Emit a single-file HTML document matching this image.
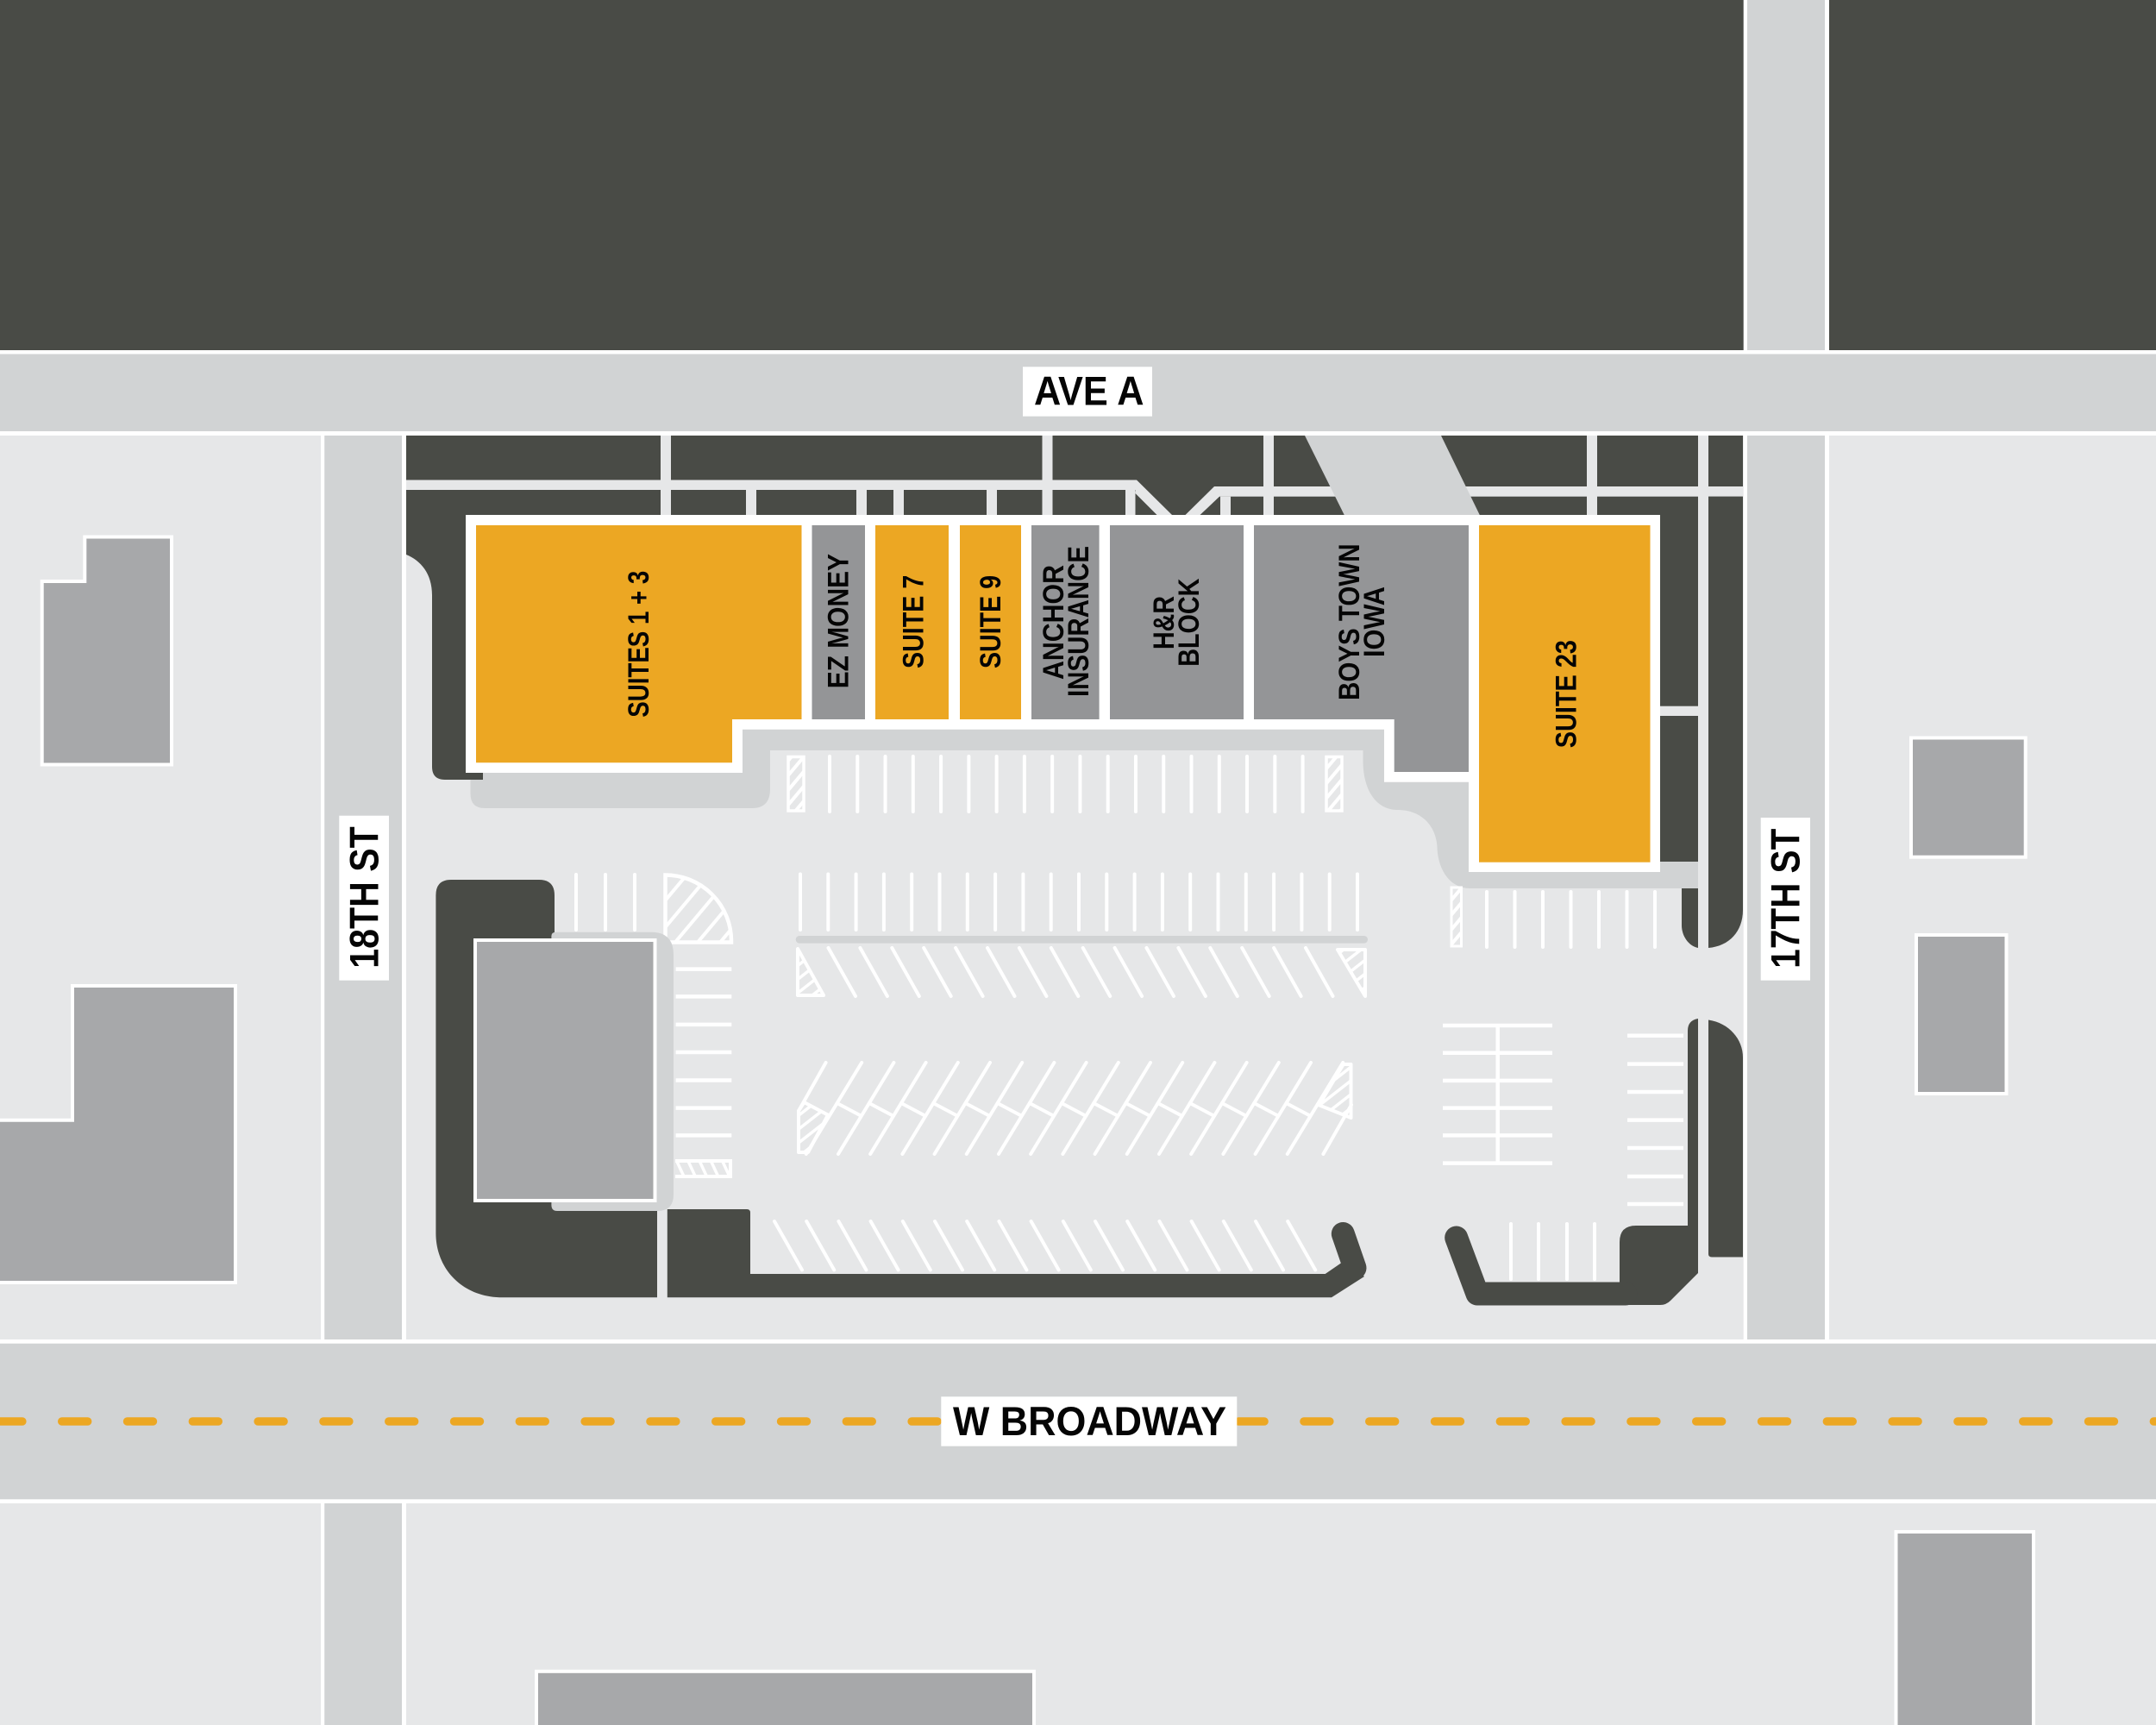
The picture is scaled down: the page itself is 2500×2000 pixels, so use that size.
<!DOCTYPE html>
<html lang="en">
<head>
<meta charset="utf-8">
<title>Site plan</title>
<style>
html,body{margin:0;padding:0;background:#e6e7e8}
svg{display:block}
text{font-family:"Liberation Sans",sans-serif;font-weight:700;fill:#050505}
.t{font-size:34px}
.r{font-size:47px}
.p{fill:none;stroke:#fff;stroke-width:4;stroke-linecap:round}
.q{fill:none;stroke:#fff;stroke-width:4.5}
</style>
</head>
<body>
<svg xmlns="http://www.w3.org/2000/svg" width="2500" height="2000" viewBox="0 0 2500 2000">
<defs>
<pattern id="h1" width="11" height="11" patternUnits="userSpaceOnUse" patternTransform="rotate(-50)"><rect width="11" height="4" fill="#fff"/></pattern>
<pattern id="h2" width="20" height="20" patternUnits="userSpaceOnUse" patternTransform="rotate(-50)"><rect width="20" height="4" fill="#fff"/></pattern>
<pattern id="h3" width="12.5" height="12.5" patternUnits="userSpaceOnUse" patternTransform="rotate(-38)"><rect width="12.5" height="3.5" fill="#fff"/></pattern>
<pattern id="h4" width="12" height="12" patternUnits="userSpaceOnUse" patternTransform="rotate(65)"><rect width="12" height="3.5" fill="#fff"/></pattern>
</defs>

<!-- ground -->
<rect width="2500" height="2000" fill="#e6e7e8"/>
<rect width="2500" height="406" fill="#494b46"/>

<!-- vertical roads -->
<rect x="2021.7" y="0" width="99.3" height="500" fill="#fff"/>
<rect x="2026" y="0" width="90" height="1553" fill="#d1d3d4"/>
<rect x="2021.7" y="505" width="4.3" height="1048" fill="#fff"/>
<rect x="2116" y="505" width="5" height="1048" fill="#fff"/>
<rect x="372" y="505" width="4.3" height="1048" fill="#fff"/>
<rect x="376.3" y="505" width="89.7" height="1048" fill="#d1d3d4"/>
<rect x="466" y="505" width="5" height="1048" fill="#fff"/>
<rect x="372" y="1743" width="4.3" height="257" fill="#fff"/>
<rect x="376.3" y="1743" width="89.7" height="257" fill="#d1d3d4"/>
<rect x="466" y="1743" width="5" height="257" fill="#fff"/>

<!-- horizontal roads -->
<rect x="0" y="406" width="2500" height="99" fill="#fff"/>
<rect x="0" y="410.5" width="2500" height="89.5" fill="#d1d3d4"/>
<rect x="0" y="1553" width="2500" height="190" fill="#fff"/>
<rect x="0" y="1557.7" width="2500" height="180.6" fill="#d1d3d4"/>

<!-- yellow centre line -->
<path fill="none" stroke="#eca723" stroke-width="9.4" stroke-linecap="round" stroke-dasharray="30 45.8" stroke-dashoffset="-0.1" d="M-4.2,1648H2500"/>

<!-- landscaping strip at the north edge -->
<rect x="471" y="505" width="1550" height="92.5" fill="#494b46"/>
<g fill="#e6e7e8">
<rect x="471" y="556.5" width="847" height="11.5"/>
<rect x="1408" y="564" width="613" height="11.7"/>
<rect x="766" y="505" width="12" height="92.5"/>
<rect x="1208.5" y="505" width="12" height="92.5"/>
<rect x="1465" y="505" width="12" height="92.5"/>
<rect x="1840" y="505" width="12" height="92.5"/>
<rect x="1969" y="505" width="12" height="92.5"/>
<rect x="865" y="568" width="12" height="29.5"/>
<rect x="993" y="568" width="12" height="29.5"/>
<rect x="1036" y="568" width="12" height="29.5"/>
<rect x="1144" y="568" width="12" height="29.5"/>
<rect x="1305" y="568" width="11.5" height="29.5"/>
<rect x="1415" y="575.7" width="12" height="21.8"/>
<polygon points="1318,556.5 1359.5,597.5 1342,597.5 1316.5,572"/>
<polygon points="1408,564 1414,575.7 1391,597.5 1374,597.5"/>
</g>
<polygon points="1513,505 1671,505 1716,597.5 1559,597.5" fill="#d1d3d4"/>

<!-- west planter by the main building -->
<path fill="#494b46" d="M471,597H545V896H560V904H516Q501,904 501,889V690C501,665 488,650 471,643Z"/>

<!-- walkway around the main building -->
<path fill="#d1d3d4" d="M545.5,880V920Q545.5,937 562,937H872Q893,937 893,915V870H1580.5V882C1580.5,915 1595,939 1620.7,939C1650,939 1666.6,960 1666.6,985C1668,1007 1680,1030 1705,1030H1969V999H1900V845H861V880Z"/>
<path fill="#494b46" d="M540,890H560V904H540Z"/>

<!-- east planters -->
<rect x="1925" y="597" width="44" height="402" fill="#494b46"/>
<rect x="1925" y="818.7" width="44" height="11.3" fill="#e6e7e8"/>
<path fill="#494b46" d="M1981,575.7H2021V1055C2021,1080 2005,1097 1981,1099Z"/>
<path fill="#494b46" d="M1950,1030H1969V1099C1958,1097 1950,1085 1950,1073Z"/>
<path fill="#494b46" d="M1981,1182.5C2005,1186 2021,1205 2021,1226V1457.5H1985Q1981,1457.5 1981,1454Z"/>
<path fill="#494b46" d="M1878,1440Q1878,1421 1897,1421H1957V1195Q1957,1183 1969,1181V1476L1937,1508Q1932,1513 1925,1513H1878Z"/>
<path fill="none" stroke="#494b46" stroke-width="27" stroke-linecap="round" stroke-linejoin="round" d="M1688.7,1435L1713,1500H1885"/>

<!-- main building -->
<polygon fill="#fff" points="540,597 1925,597 1925,1011 1703,1011 1703,906.7 1605,906.7 1605,845.7 861,845.7 861,896 540,896"/>
<polygon fill="#eca723" points="552,609 929.5,609 929.5,834 849,834 849,884.3 552,884.3"/>
<rect x="941.5" y="609" width="61.5" height="225" fill="#949597"/>
<rect x="1015" y="609" width="85" height="225" fill="#eca723"/>
<rect x="1113" y="609" width="71" height="225" fill="#eca723"/>
<rect x="1196" y="609" width="78.6" height="225" fill="#949597"/>
<rect x="1287" y="609" width="155" height="225" fill="#949597"/>
<polygon fill="#949597" points="1454,609 1703,609 1703,895 1616.7,895 1616.7,834 1454,834"/>
<rect x="1715" y="609" width="198.5" height="390.7" fill="#eca723"/>

<!-- tenant labels -->
<text class="t" transform="translate(752.2,831.7) rotate(-90)" textLength="170" lengthAdjust="spacingAndGlyphs">SUITES 1 + 3</text>
<text class="t" transform="translate(983.5,798.3) rotate(-90)" textLength="156.3" lengthAdjust="spacingAndGlyphs">EZ MONEY</text>
<text class="t" transform="translate(1070.5,775) rotate(-90)" textLength="108.3" lengthAdjust="spacingAndGlyphs">SUITE 7</text>
<text class="t" transform="translate(1160,775) rotate(-90)" textLength="108" lengthAdjust="spacingAndGlyphs">SUITE 9</text>
<text class="t" transform="translate(1233,788) rotate(-90)" textLength="133" lengthAdjust="spacingAndGlyphs">ANCHOR</text>
<text class="t" transform="translate(1262,808) rotate(-90)" textLength="175" lengthAdjust="spacingAndGlyphs">INSURANCE</text>
<text class="t" transform="translate(1361,753) rotate(-90)" textLength="62" lengthAdjust="spacingAndGlyphs">H&amp;R</text>
<text class="t" transform="translate(1390,772.8) rotate(-90)" textLength="102.2" lengthAdjust="spacingAndGlyphs">BLOCK</text>
<text class="t" transform="translate(1576,812) rotate(-90)" textLength="181.6" lengthAdjust="spacingAndGlyphs">BOYS TOWN</text>
<text class="t" transform="translate(1605,762) rotate(-90)" textLength="82" lengthAdjust="spacingAndGlyphs">IOWA</text>
<text class="t" transform="translate(1827.4,867.3) rotate(-90)" textLength="125.3" lengthAdjust="spacingAndGlyphs">SUITE 23</text>

<!-- parking row under building -->
<path class="p" d="M962,877v64m32.27,-64v64m32.27,-64v64m32.27,-64v64m32.27,-64v64m32.27,-64v64m32.27,-64v64m32.27,-64v64m32.27,-64v64m32.27,-64v64m32.27,-64v64m32.27,-64v64m32.27,-64v64m32.27,-64v64m32.27,-64v64m32.27,-64v64m32.27,-64v64m32.27,-64v64"/>
<rect x="914" y="877.5" width="18" height="62.5" fill="url(#h1)" stroke="#fff" stroke-width="3.5"/>
<rect x="1538" y="877.5" width="18" height="62.5" fill="url(#h1)" stroke="#fff" stroke-width="3.5"/>

<!-- second parking row and divider -->
<path class="p" d="M928,1013.5v64.5m32.3,-64.5v64.5m32.3,-64.5v64.5m32.3,-64.5v64.5m32.3,-64.5v64.5m32.3,-64.5v64.5m32.3,-64.5v64.5m32.3,-64.5v64.5m32.3,-64.5v64.5m32.3,-64.5v64.5m32.3,-64.5v64.5m32.3,-64.5v64.5m32.3,-64.5v64.5m32.3,-64.5v64.5m32.3,-64.5v64.5m32.3,-64.5v64.5m32.3,-64.5v64.5m32.3,-64.5v64.5m32.3,-64.5v64.5m32.3,-64.5v64.5m32.3,-64.5v64.5"/>
<rect x="922.7" y="1085" width="663.3" height="8.6" rx="4.3" fill="#d1d3d4"/>

<!-- third row -->
<path class="p" d="M960.5,1099l31.5,56m5.4,-56l31.5,56m5.4,-56l31.5,56m5.4,-56l31.5,56m5.4,-56l31.5,56m5.4,-56l31.5,56m5.4,-56l31.5,56m5.4,-56l31.5,56m5.4,-56l31.5,56m5.4,-56l31.5,56m5.4,-56l31.5,56m5.4,-56l31.5,56m5.4,-56l31.5,56m5.4,-56l31.5,56m5.4,-56l31.5,56m5.4,-56l31.5,56"/>
<polygon points="925,1100 925,1154 955,1154" fill="url(#h3)" stroke="#fff" stroke-width="4" stroke-linejoin="round"/>
<polygon points="1551,1101 1583,1101 1583,1155" fill="url(#h3)" stroke="#fff" stroke-width="4" stroke-linejoin="round"/>

<!-- chevron row -->
<path class="p" d="M999.2,1232l-64.4,106m101.6,-106l-64.4,106m101.6,-106l-64.4,106m101.6,-106l-64.4,106m101.6,-106l-64.4,106m101.6,-106l-64.4,106m101.6,-106l-64.4,106m101.6,-106l-64.4,106m101.6,-106l-64.4,106m101.6,-106l-64.4,106m101.6,-106l-64.4,106m101.6,-106l-64.4,106m101.6,-106l-64.4,106m101.6,-106l-64.4,106m101.6,-106l-64.4,106m101.6,-106l-64.4,106"/>
<path class="p" d="M970.6,1279l27.2,14.4m10,-14.4l27.2,14.4m10,-14.4l27.2,14.4m10,-14.4l27.2,14.4m10,-14.4l27.2,14.4m10,-14.4l27.2,14.4m10,-14.4l27.2,14.4m10,-14.4l27.2,14.4m10,-14.4l27.2,14.4m10,-14.4l27.2,14.4m10,-14.4l27.2,14.4m10,-14.4l27.2,14.4m10,-14.4l27.2,14.4m10,-14.4l27.2,14.4m10,-14.4l27.2,14.4"/>
<path class="p" d="M957.6,1232L926,1288"/>
<polygon points="926,1288 932.4,1278 960,1292.7 937,1336 926,1336" fill="url(#h3)" stroke="#fff" stroke-width="4" stroke-linejoin="round"/>
<polygon points="1557.7,1234 1566.5,1234 1566.5,1296 1529.5,1281.3" fill="url(#h3)" stroke="#fff" stroke-width="4" stroke-linejoin="round"/>
<path class="p" d="M1567,1281L1534.4,1338"/>

<!-- bottom row: 17 stripes -->
<path class="p" d="M898,1416l32,56.4M935.2,1416l32,56.4M972.4,1416l32,56.4M1009.6,1416l32,56.4M1046.8,1416l32,56.4M1084,1416l32,56.4M1121.2,1416l32,56.4M1158.4,1416l32,56.4M1195.6,1416l32,56.4M1232.8,1416l32,56.4M1270,1416l32,56.4M1307.2,1416l32,56.4M1344.4,1416l32,56.4M1381.6,1416l32,56.4M1418.8,1416l32,56.4M1456,1416l32,56.4M1493.2,1416l32,56.4"/>

<!-- bottom curb -->
<path fill="#494b46" d="M773.8,1402H866Q870,1402 870,1406V1477H1536.7L1560,1461L1582,1480L1544,1504.3H773.8Z"/>
<path fill="none" stroke="#494b46" stroke-width="27" stroke-linecap="round" stroke-linejoin="round" d="M1557.3,1430.5L1571,1470"/>

<!-- west pad parking -->
<path class="p" d="M668,1014v64m34,-64v64m34,-64v64"/>
<path d="M771.5,1078V1014.5A76.5,76.5 0 0 1 848,1091V1092.5H771.5Z" fill="url(#h2)" stroke="#fff" stroke-width="4.5"/>
<path class="q" d="M783.6,1123.6H848.3M783.6,1155.4H848.3M783.6,1187.9H848.3M783.6,1220H848.3M783.6,1252.5H848.3M783.6,1284.6H848.3M783.6,1316.4H848.3"/>
<path d="M783,1346H847V1364H783Z" fill="url(#h4)"/>
<path d="M783,1346H847V1364H783" fill="none" stroke="#fff" stroke-width="4"/>

<!-- west pad planter, walkway, building -->
<path fill="#494b46" d="M505.4,1038Q505.4,1020 523,1020H625Q643,1020 643,1038V1400H762V1504.3H583C535,1504.3 505.4,1470 505.4,1430Z"/>
<path fill="#d1d3d4" d="M639.4,1087V1085Q639.4,1080.7 645,1080.7H755Q781,1080.7 781,1107V1385Q781,1404 762,1404H646Q639.4,1404 639.4,1397Z"/>
<rect x="551" y="1090" width="208.5" height="302" fill="#a7a8aa" stroke="#fff" stroke-width="4"/>

<!-- east parking -->
<rect x="1683" y="1029" width="11.5" height="68" fill="url(#h1)" stroke="#fff" stroke-width="3"/>
<path class="p" d="M1724,1034v64m32.5,-64v64m32.5,-64v64m32.5,-64v64m32.5,-64v64m32.5,-64v64m32.5,-64v64"/>
<path class="q" d="M1673,1189H1800M1673,1220.7H1800M1673,1252.9H1800M1673,1284.6H1800M1673,1316.4H1800M1673,1348.6H1800M1736.7,1189V1348.6"/>
<path class="q" d="M1887,1200.7H1952M1887,1233.6H1952M1887,1266H1952M1887,1298.6H1952M1887,1331H1952M1887,1364H1952M1887,1396H1952"/>
<path class="p" d="M1752,1419v64m32,-64v64m33,-64v64m32,-64v64"/>

<!-- neighbouring buildings -->
<g fill="#a7a8aa" stroke="#fff" stroke-width="4">
<polygon points="98.3,622.5 199,622.5 199,886.5 48.7,886.5 48.7,674 98.3,674"/>
<polygon points="84,1143 273,1143 273,1487 -5,1487 -5,1298.7 84,1298.7"/>
<rect x="2216" y="855.5" width="132.7" height="138.2"/>
<rect x="2222" y="1084" width="104.5" height="184"/>
<rect x="2198.5" y="1776" width="159.5" height="240"/>
<rect x="622" y="1937.8" width="577" height="80"/>
</g>

<!-- street labels -->
<rect x="1186" y="425.3" width="150" height="57.4" fill="#fff"/>
<text class="r" x="1199" y="469.5" textLength="127.5" lengthAdjust="spacingAndGlyphs">AVE A</text>
<rect x="1091.3" y="1619.3" width="343" height="57.4" fill="#fff"/>
<text class="r" x="1105" y="1664" textLength="317" lengthAdjust="spacingAndGlyphs">W BROADWAY</text>
<rect x="393.3" y="945.7" width="57.7" height="191" fill="#fff"/>
<text class="r" transform="translate(438.3,1122.7) rotate(-90)" textLength="164.4" lengthAdjust="spacingAndGlyphs">18TH ST</text>
<rect x="2041.7" y="948" width="57.3" height="188.7" fill="#fff"/>
<text class="r" transform="translate(2086.7,1122.7) rotate(-90)" textLength="162" lengthAdjust="spacingAndGlyphs">17TH ST</text>
</svg>
</body>
</html>
